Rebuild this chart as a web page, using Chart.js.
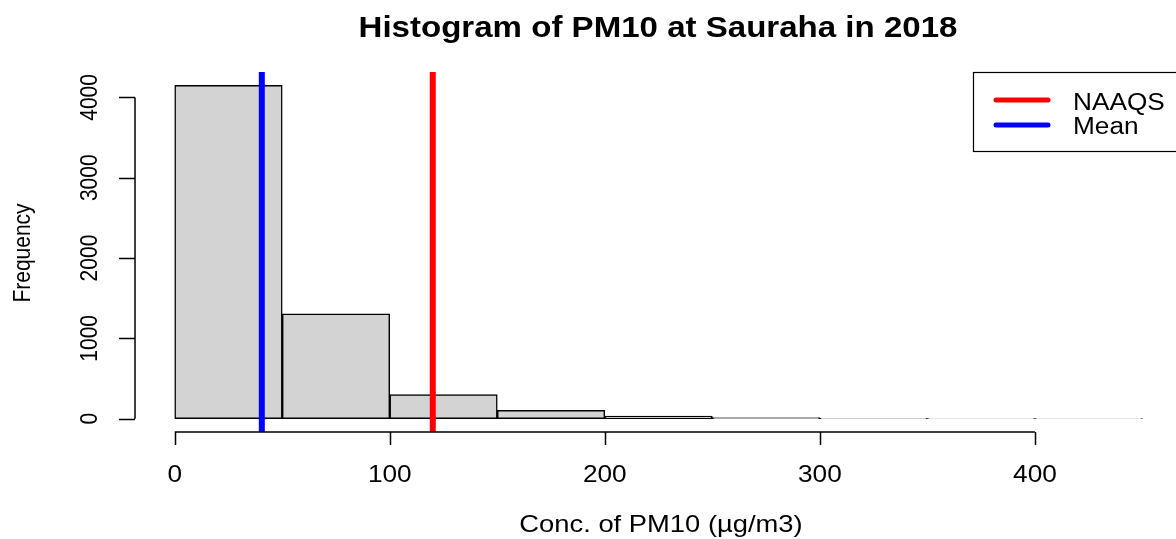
<!DOCTYPE html>
<html>
<head>
<meta charset="utf-8">
<script src="https://cdn.jsdelivr.net/npm/chart.js@4/dist/chart.umd.min.js"></script>
<style>
  html, body { margin: 0; padding: 0; background: #fff; }
  #wrap { width: 1176px; height: 539px; position: relative; }
</style>
</head>
<body>
<div id="wrap"><canvas id="c" width="1176" height="539"></canvas></div>
<script>
// Histogram bins (µg/m3) and their counts
const binStarts = [0, 50, 100, 150, 200, 250, 300, 350, 400];
const binWidth = 50;
const counts = [4150, 1305, 300, 105, 32, 14, 3, 2, 1];

// Axis tick labels
const xTicks = [0, 100, 200, 300, 400];
const yTicks = [0, 1000, 2000, 3000, 4000];

// Reference lines
const naaqs = 120;
const meanConc = 40.5;

const FONT = '"Liberation Sans", Arial, Helvetica, sans-serif';
const SX = 1.14; // horizontal widening of the text glyphs

const bars = binStarts.map((s, i) => ({ x: s + binWidth / 2, y: counts[i] }));

function wideText(ctx, text, x, y, font, align) {
  ctx.save();
  ctx.font = font;
  ctx.textAlign = align || 'center';
  ctx.textBaseline = 'alphabetic';
  ctx.translate(x, y);
  ctx.scale(SX, 1);
  ctx.fillText(text, 0, 0);
  ctx.restore();
}

function upText(ctx, text, x, y, font) {
  ctx.save();
  ctx.font = font;
  ctx.textAlign = 'center';
  ctx.textBaseline = 'alphabetic';
  ctx.translate(x, y);
  ctx.scale(SX, 1);
  ctx.rotate(-Math.PI / 2);
  ctx.fillText(text, 0, 0);
  ctx.restore();
}

// R-style axes, labels, title and legend drawn from the chart's scales
const rStyle = {
  id: 'rStyle',
  afterDraw(chart) {
    const ctx = chart.ctx;
    const xs = chart.scales.x, ys = chart.scales.y;
    const area = chart.chartArea;
    ctx.save();
    ctx.strokeStyle = '#000';
    ctx.fillStyle = '#000';
    ctx.lineWidth = 1.5;

    // x axis
    const xAxisY = area.bottom;
    ctx.beginPath();
    ctx.moveTo(xs.getPixelForValue(xTicks[0]), xAxisY);
    ctx.lineTo(xs.getPixelForValue(xTicks[xTicks.length - 1]), xAxisY);
    xTicks.forEach(t => {
      const px = Math.round(xs.getPixelForValue(t)) + 0.5;
      ctx.moveTo(px, xAxisY);
      ctx.lineTo(px, xAxisY + 13);
    });
    ctx.stroke();
    xTicks.forEach(t => wideText(ctx, String(t), xs.getPixelForValue(t), 482, '23px ' + FONT));

    // y axis
    const yAxisX = area.left - 1;
    ctx.beginPath();
    ctx.moveTo(yAxisX, ys.getPixelForValue(yTicks[0]));
    ctx.lineTo(yAxisX, ys.getPixelForValue(yTicks[yTicks.length - 1]));
    yTicks.forEach(t => {
      const py = Math.round(ys.getPixelForValue(t)) + 0.5;
      ctx.moveTo(yAxisX, py);
      ctx.lineTo(yAxisX - 16, py);
    });
    ctx.stroke();
    yTicks.forEach(t => upText(ctx, String(t), 97, ys.getPixelForValue(t), '21px ' + FONT));

    // axis titles
    wideText(ctx, 'Conc. of PM10 (µg/m3)', 661, 532, '24px ' + FONT);
    upText(ctx, 'Frequency', 30, 253, '21px ' + FONT);

    // main title
    wideText(ctx, 'Histogram of PM10 at Sauraha in 2018', 658, 37, 'bold 29px ' + FONT);

    // legend
    ctx.lineWidth = 1.2;
    ctx.strokeStyle = '#000';
    ctx.fillStyle = '#fff';
    ctx.fillRect(973, 72, 210, 79);
    ctx.strokeRect(973.5, 72.5, 210, 79);
    const items = [['NAAQS', '#ff0000', 100, 110], ['Mean', '#0000ff', 125, 134]];
    ctx.lineCap = 'round';
    items.forEach(([label, color, y, base]) => {
      ctx.strokeStyle = color;
      ctx.lineWidth = 5;
      ctx.beginPath();
      ctx.moveTo(996, y);
      ctx.lineTo(1048, y);
      ctx.stroke();
      ctx.fillStyle = '#000';
      wideText(ctx, label, 1073, base, '23px ' + FONT, 'left');
    });
    ctx.restore();
  }
};

new Chart(document.getElementById('c'), {
  data: {
    datasets: [
      {
        type: 'bar',
        label: 'Frequency',
        data: bars,
        backgroundColor: '#d3d3d3',
        borderColor: '#000',
        borderWidth: 1.5,
        borderSkipped: false,
        barThickness: 'flex',
        barPercentage: 1,
        categoryPercentage: 1,
        order: 3
      },
      {
        type: 'line',
        label: 'NAAQS',
        data: [{ x: naaqs, y: -200 }, { x: naaqs, y: 4400 }],
        borderColor: '#ff0000',
        borderWidth: 6,
        pointRadius: 0,
        order: 1
      },
      {
        type: 'line',
        label: 'Mean',
        data: [{ x: meanConc, y: -200 }, { x: meanConc, y: 4400 }],
        borderColor: '#0000ff',
        borderWidth: 6,
        pointRadius: 0,
        order: 2
      }
    ]
  },
  options: {
    responsive: false,
    animation: false,
    layout: { padding: { left: 136, right: 0, top: 72, bottom: 107 } },
    plugins: { legend: { display: false }, tooltip: { enabled: false }, title: { display: false } },
    scales: {
      x: { type: 'linear', display: false, min: -18, max: 465.6, offset: false },
      y: { type: 'linear', display: false, min: -166, max: 4316 }
    }
  },
  plugins: [rStyle]
});
</script>
</body>
</html>
